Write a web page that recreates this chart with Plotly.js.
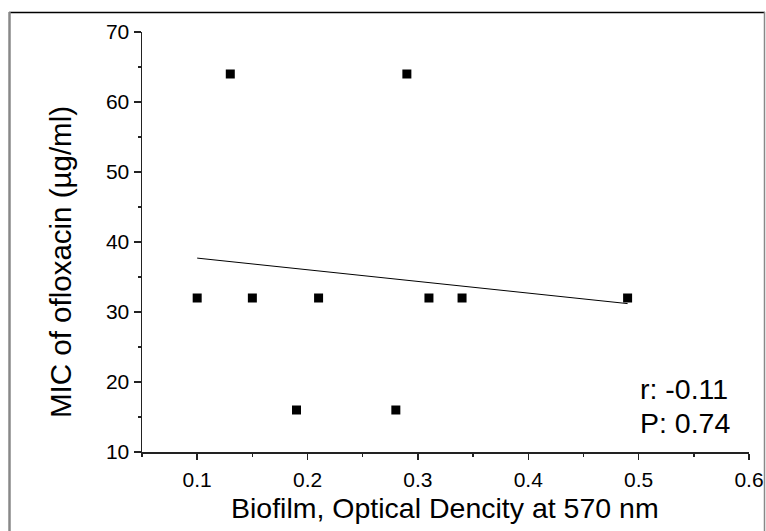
<!DOCTYPE html>
<html>
<head>
<meta charset="utf-8">
<script src="https://cdn.plot.ly/plotly-3.0.1.min.js"></script>
<style>html,body{margin:0;padding:0;background:#fff}#chart{width:766px;height:531px}</style>
</head>
<body>
<div id="chart"></div>
<script>
// Data
var biofilmOD = [0.10, 0.13, 0.15, 0.19, 0.21, 0.28, 0.29, 0.31, 0.34, 0.49];
var micOfloxacin = [32, 64, 32, 16, 32, 16, 64, 32, 32, 32];
// Linear fit line endpoints (as drawn)
var fitX = [0.10, 0.49];
var fitY = [37.7, 31.2];
var xTickVals = [0.1, 0.2, 0.3, 0.4, 0.5, 0.6];
var xTickText = ['0.1', '0.2', '0.3', '0.4', '0.5', '0.6'];
var yTickVals = [10, 20, 30, 40, 50, 60, 70];
var xTitle = 'Biofilm, Optical Dencity at 570 nm';
var yTitle = 'MIC of ofloxacin (µg/ml)';
var statLines = ['r: -0.11', 'P: 0.74'];

var font = 'Liberation Sans, Arial, sans-serif';

var traces = [
  {
    x: biofilmOD, y: micOfloxacin, type: 'scatter', mode: 'markers',
    marker: {symbol: 'square', size: 9, color: '#000'},
    showlegend: false, hoverinfo: 'x+y'
  },
  {
    x: fitX, y: fitY, type: 'scatter', mode: 'lines',
    line: {color: '#000', width: 1}, showlegend: false
  }
];

var L = 142, R = 17, T = 32, B = 79, W = 766, H = 531;
var pw = W - L - R, ph = H - T - B;
function px(x){ return (x - L) / pw; }
function py(y){ return (H - B - y) / ph; }

var layout = {
  width: W, height: H,
  margin: {l: L, r: R, t: T, b: B, pad: 0},
  paper_bgcolor: '#fff', plot_bgcolor: '#fff',
  font: {family: font, color: '#000', size: 21},
  xaxis: {
    range: [0.05, 0.6], tickvals: xTickVals, ticktext: xTickText,
    ticks: 'outside', ticklen: 6, tickwidth: 1.5, tickcolor: '#222',
    showline: true, linecolor: '#222', linewidth: 1.5, mirror: false,
    showgrid: false, zeroline: false,
    tickfont: {family: font, size: 21, color: '#000'},
    ticklabelstandoff: 2,
    minor: {dtick: 0.05, tick0: 0.05, ticks: 'outside', ticklen: 3, tickwidth: 1.5, tickcolor: '#222'}
  },
  yaxis: {
    range: [10, 70], tickvals: yTickVals,
    ticks: 'outside', ticklen: 7, tickwidth: 1.5, tickcolor: '#222',
    showline: true, linecolor: '#222', linewidth: 1.5, mirror: false,
    showgrid: false, zeroline: false,
    tickfont: {family: font, size: 21, color: '#000'},
    minor: {dtick: 5, tick0: 5, ticks: 'outside', ticklen: 3, tickwidth: 1.5, tickcolor: '#222'}
  },
  annotations: [
    {xref: 'paper', yref: 'paper', x: px(445), y: py(508), xanchor: 'center', yanchor: 'middle',
     text: xTitle, showarrow: false, font: {family: font, size: 28.5, color: '#000'}},
    {xref: 'paper', yref: 'paper', x: px(60), y: py(262), xanchor: 'center', yanchor: 'middle',
     text: yTitle, textangle: -90, showarrow: false,
     font: {family: font, size: 29.5, color: '#000'}},
    {xref: 'paper', yref: 'paper', x: px(638), y: py(389), xanchor: 'left', yanchor: 'middle',
     text: statLines[0], showarrow: false, font: {family: font, size: 28.5, color: '#000'}},
    {xref: 'paper', yref: 'paper', x: px(638), y: py(423), xanchor: 'left', yanchor: 'middle',
     text: statLines[1], showarrow: false, font: {family: font, size: 28.5, color: '#000'}}
  ],
  shapes: [
    {type: 'line', xref: 'paper', yref: 'paper', x0: px(9), x1: px(765), y0: py(12.5), y1: py(12.5),
     line: {color: '#000', width: 1.5}},
    {type: 'line', xref: 'paper', yref: 'paper', x0: px(9.5), x1: px(9.5), y0: py(12), y1: py(531),
     line: {color: '#888', width: 2.5}},
    {type: 'line', xref: 'paper', yref: 'paper', x0: px(764.5), x1: px(764.5), y0: py(12), y1: py(531),
     line: {color: '#888', width: 1.5}}
  ]
};

Plotly.newPlot('chart', traces, layout, {displayModeBar: false, staticPlot: true});
</script>
</body>
</html>
